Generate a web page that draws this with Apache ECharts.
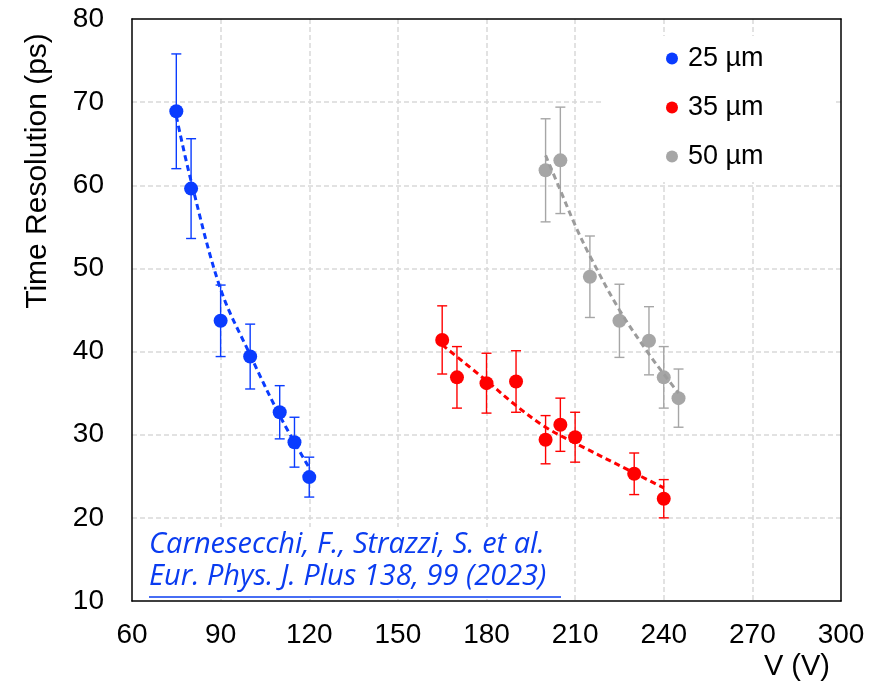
<!DOCTYPE html>
<html>
<head>
<meta charset="utf-8">
<script src="https://cdn.jsdelivr.net/npm/echarts@6/dist/echarts.min.js"></script>
<style>html,body{margin:0;padding:0;background:#fff}#c{width:894px;height:691px}</style>
</head>
<body>
<div id="c"></div>
<script>
// ---- data ----
const xTicks = [60, 90, 120, 150, 180, 210, 240, 270, 300];
const yTicks = [10, 20, 30, 40, 50, 60, 70, 80];

const v25 = [75, 80, 90, 100, 110, 115, 120];
const t25 = [68.9, 59.6, 43.7, 39.4, 32.7, 29.1, 24.9];
const e25 = [6.9, 6.0, 4.3, 3.9, 3.2, 3.0, 2.4];

const v35 = [165, 170, 180, 190, 200, 205, 210, 230, 240];
const t35 = [41.4, 36.9, 36.2, 36.4, 29.4, 31.2, 29.7, 25.3, 22.3];
const e35 = [4.1, 3.7, 3.6, 3.7, 2.9, 3.2, 3.0, 2.5, 2.3];

const v50 = [200, 205, 215, 225, 235, 240, 245];
const t50 = [61.8, 63.0, 49.0, 43.7, 41.3, 36.9, 34.4];
const e50 = [6.2, 6.4, 4.9, 4.4, 4.1, 3.7, 3.5];

// dashed trend curves
const fitV25 = [75, 80, 90, 100, 110, 120];
const fitT25 = [68.3, 60.5, 47.5, 39.6, 32.3, 26.0];
const fitV35 = [165, 180, 190, 200, 210, 230, 240];
const fitT35 = [40.8, 36.5, 33.5, 30.9, 29.0, 25.4, 23.6];
const fitV50 = [200, 205, 210, 215, 225, 235, 240, 245];
const fitT50 = [63.6, 59.4, 55.2, 51.5, 45.0, 39.7, 37.3, 35.0];

const names = ['25 µm', '35 µm', '50 µm'];
const colors = ['#0a3cff', '#ff0000', '#a6a6a6'];
const fitColors = ['#0a3cff', '#ff0000', '#9c9c9c'];
const xName = 'V (V)';
const yName = 'Time Resolution (ps)';
const cite1 = 'Carnesecchi, F., Strazzi, S. et al.';
const cite2 = 'Eur. Phys. J. Plus 138, 99 (2023)';

// ---- build ----
const FONT = 'Liberation Sans';
const groups = [[v25, t25, e25, fitV25, fitT25], [v35, t35, e35, fitV35, fitT35], [v50, t50, e50, fitV50, fitT50]];

function errSeries(v, t, e, color) {
  return {
    type: 'custom', silent: true, z: 3,
    data: v.map((x, i) => [x, t[i] - e[i], t[i] + e[i]]),
    encode: { x: 0, y: [1, 2] },
    renderItem: function (params, api) {
      const x = api.value(0);
      const top = api.coord([x, api.value(2)]);
      const bot = api.coord([x, api.value(1)]);
      const w = 5;
      const st = { stroke: color, lineWidth: 1.4 };
      return {
        type: 'group',
        children: [
          { type: 'line', shape: { x1: top[0], y1: top[1], x2: bot[0], y2: bot[1] }, style: st },
          { type: 'line', shape: { x1: top[0] - w, y1: top[1], x2: top[0] + w, y2: top[1] }, style: st },
          { type: 'line', shape: { x1: bot[0] - w, y1: bot[1], x2: bot[0] + w, y2: bot[1] }, style: st }
        ]
      };
    }
  };
}

const series = [];
groups.forEach((g, k) => {
  const [v, t, e, fv, ft] = g;
  series.push(errSeries(v, t, e, colors[k]));
  series.push({
    name: names[k], type: 'scatter', z: 4,
    data: v.map((x, i) => [x, t[i]]),
    symbol: 'circle', symbolSize: 14,
    itemStyle: { color: colors[k], opacity: 1 }
  });
  series.push({
    type: 'line', z: 5, silent: true,
    data: fv.map((x, i) => [x, ft[i]]),
    smooth: 0.35, symbol: 'none',
    lineStyle: { color: fitColors[k], width: 3, type: [6, 4] }
  });
});

const gridLine = { show: true, showMinLine: false, showMaxLine: false, lineStyle: { color: '#d9d9d9', width: 1.5, type: [5, 3] } };

const chart = echarts.init(document.getElementById('c'), null, { renderer: 'canvas' });
chart.setOption({
  animation: false,
  backgroundColor: '#fff',
  grid: { left: 132, top: 19, right: 53, bottom: 90, show: false },
  xAxis: [{
    type: 'value', min: xTicks[0], max: xTicks[xTicks.length - 1], interval: 30,
    axisLine: { show: true, onZero: false, lineStyle: { color: '#000', width: 1.5 } }, axisTick: { show: false },
    axisLabel: { fontFamily: FONT, fontSize: 28, color: '#000', margin: 20 },
    splitLine: gridLine
  }, {
    type: 'value', position: 'top', min: xTicks[0], max: xTicks[xTicks.length - 1], interval: 30,
    axisLine: { show: true, onZero: false, lineStyle: { color: '#000', width: 1.5 } }, axisTick: { show: false },
    axisLabel: { show: false }, splitLine: { show: false }
  }],
  yAxis: [{
    type: 'value', min: yTicks[0], max: yTicks[yTicks.length - 1], interval: 10,
    axisLine: { show: true, onZero: false, lineStyle: { color: '#000', width: 1.5 } }, axisTick: { show: false },
    axisLabel: { fontFamily: FONT, fontSize: 28, color: '#000', margin: 28 },
    splitLine: gridLine
  }, {
    type: 'value', position: 'right', min: yTicks[0], max: yTicks[yTicks.length - 1], interval: 10,
    axisLine: { show: true, onZero: false, lineStyle: { color: '#000', width: 1.5 } }, axisTick: { show: false },
    axisLabel: { show: false }, splitLine: { show: false }
  }],
  legend: {
    data: names, orient: 'vertical', left: 602, top: 36,
    backgroundColor: '#fff', padding: [9, 70, 12, 64], itemGap: 22,
    icon: 'circle', itemWidth: 22, itemHeight: 12,
    textStyle: { fontFamily: FONT, fontSize: 27, color: '#000' }
  },
  graphic: [
    { type: 'text', z: 10, x: 38, y: 171, rotation: Math.PI / 2,
      style: { text: yName, font: '30px "Liberation Sans"', fill: '#000', align: 'center', verticalAlign: 'middle' } },
    { type: 'text', z: 10, x: 830, y: 667,
      style: { text: xName, font: '29px "Liberation Sans"', fill: '#000', align: 'right', verticalAlign: 'middle' } },
    { type: 'rect', z: 1, shape: { x: 134, y: 527, width: 430, height: 72 }, style: { fill: '#fff' } },
    { type: 'text', z: 10, x: 149, y: 545,
      style: { text: cite1, font: 'italic 29px "Open Sans"', fill: '#0a3cf0', align: 'left', verticalAlign: 'middle' } },
    { type: 'text', z: 10, x: 149, y: 577,
      style: { text: cite2, font: 'italic 29px "Open Sans"', fill: '#0a3cf0', align: 'left', verticalAlign: 'middle' } },
    { type: 'line', z: 10, shape: { x1: 149, y1: 597, x2: 561, y2: 597 }, style: { stroke: '#0a3cf0', lineWidth: 1.5 } }
  ],
  series: series
});
</script>
</body>
</html>
